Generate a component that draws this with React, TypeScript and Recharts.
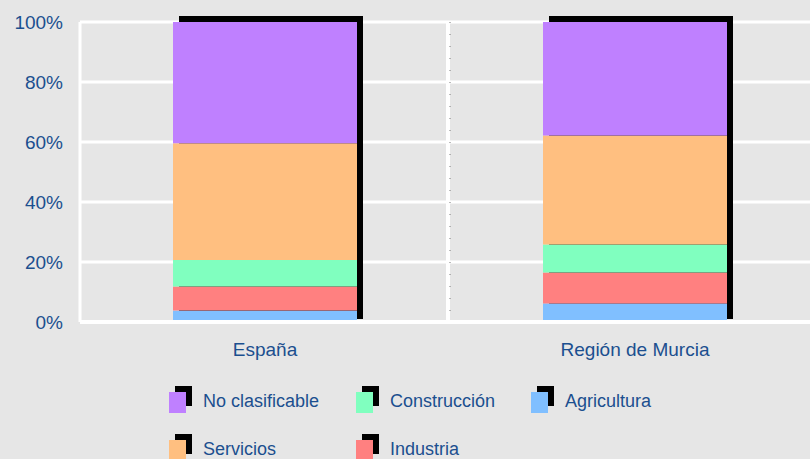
import React from "react";
import { BarChart, Bar, XAxis, YAxis, CartesianGrid } from "recharts";

const categories = ["España", "Región de Murcia"];
const agricultura = [3.8, 6.2];
const industria = [8.0, 10.3];
const construccion = [8.9, 9.3];
const servicios = [38.9, 36.4];
const noClasificable = [40.4, 37.8];
const yTicks = [0, 20, 40, 60, 80, 100];

const data = categories.map((name, i) => ({
  name,
  agricultura: agricultura[i],
  industria: industria[i],
  construccion: construccion[i],
  servicios: servicios[i],
  noClasificable: noClasificable[i],
}));

const series = [
  { key: "agricultura", label: "Agricultura", color: "#80bfff" },
  { key: "industria", label: "Industria", color: "#ff8080" },
  { key: "construccion", label: "Construcción", color: "#80ffbf" },
  { key: "servicios", label: "Servicios", color: "#ffbf80" },
  { key: "noClasificable", label: "No clasificable", color: "#bf80ff" },
];

// legend order as in the original (3 columns, 2 rows)
const legendItems = [
  { label: "No clasificable", color: "#bf80ff", left: 169, top: 392 },
  { label: "Construcción", color: "#80ffbf", left: 356, top: 392 },
  { label: "Agricultura", color: "#80bfff", left: 531, top: 392 },
  { label: "Servicios", color: "#ffbf80", left: 169, top: 440 },
  { label: "Industria", color: "#ff8080", left: 356, top: 440 },
];

const FONT = '"Liberation Sans", Arial, sans-serif';
const TEXT = "#1b4f8f";
const BG = "#e6e6e6";

// bottom segment also draws the black drop shadow of the whole stack
function BaseWithShadow(props: any) {
  const { x, y, width, height, payload, fill } = props;
  const row = payload;
  const total = series.reduce((s, d) => s + (row[d.key] as number), 0);
  const px = height / row.agricultura;
  const bottom = y + height;
  const top = bottom - total * px;
  return (
    <g>
      <rect x={x + 6} y={top - 6} width={width} height={bottom - 3 - (top - 6)} fill="#000" />
      <rect x={x} y={y} width={width} height={height} fill={fill} />
    </g>
  );
}

const midLine = ({ offset }: any) => [offset.left + offset.width / 2 - 2];
const midDots = ({ offset }: any) => [offset.left + offset.width / 2];

export default function App() {
  return (
    <div
      style={{
        position: "absolute",
        left: 0,
        top: 0,
        width: 810,
        height: 459,
        overflow: "hidden",
        background: BG,
        fontFamily: FONT,
      }}
    >
      <BarChart
        width={830}
        height={459}
        data={data}
        margin={{ top: 22, right: 10, left: 0, bottom: 107 }}
        barSize={184}
      >
        <CartesianGrid stroke="#ffffff" strokeWidth={3} vertical={false} />
        <CartesianGrid
          stroke="#ffffff"
          strokeWidth={4}
          horizontal={false}
          verticalCoordinatesGenerator={midLine}
        />
        <CartesianGrid
          stroke="#777"
          strokeWidth={1}
          strokeDasharray="1 11"
          horizontal={false}
          verticalCoordinatesGenerator={midDots}
        />
        <XAxis
          dataKey="name"
          height={30}
          tickSize={0}
          tickMargin={21}
          axisLine={{ stroke: "#ffffff", strokeWidth: 4 }}
          tick={{ fill: TEXT, fontSize: 19, fontFamily: FONT }}
        />
        <YAxis
          width={80}
          domain={[0, 100]}
          ticks={yTicks}
          tickFormatter={(v: number) => `${v}%`}
          tickSize={0}
          tickMargin={17}
          axisLine={{ stroke: "#ffffff", strokeWidth: 3 }}
          tick={{ fill: TEXT, fontSize: 19, fontFamily: FONT }}
        />
        {series.map((s, i) => (
          <Bar
            key={s.key}
            dataKey={s.key}
            stackId="a"
            fill={s.color}
            isAnimationActive={false}
            shape={i === 0 ? <BaseWithShadow /> : undefined}
          />
        ))}
      </BarChart>
      {legendItems.map((it) => (
        <div key={it.label}>
          <div
            style={{
              position: "absolute",
              left: it.left + 6,
              top: it.top - 6,
              width: 17,
              height: 20,
              background: "#000",
            }}
          />
          <div
            style={{
              position: "absolute",
              left: it.left,
              top: it.top,
              width: 17,
              height: 21,
              background: it.color,
            }}
          />
          <div
            style={{
              position: "absolute",
              left: it.left + 34,
              top: it.top - 1.4,
              fontSize: 18,
              lineHeight: "21px",
              color: TEXT,
              whiteSpace: "nowrap",
            }}
          >
            {it.label}
          </div>
        </div>
      ))}
    </div>
  );
}
